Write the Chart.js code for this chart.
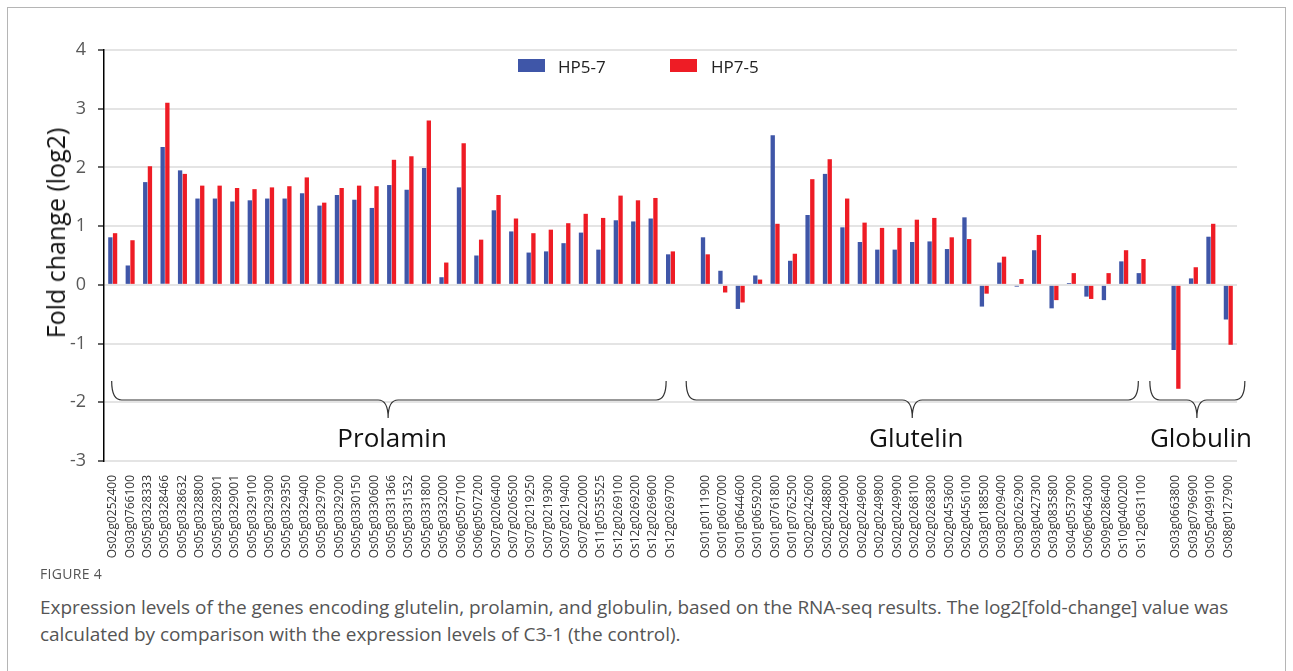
<!DOCTYPE html>
<html>
<head>
<meta charset="utf-8">
<script src="https://cdn.jsdelivr.net/npm/chart.js@4.4.0/dist/chart.umd.min.js"></script>
<style>
  body { margin: 0; background: #fff; width: 1293px; height: 671px; overflow: hidden; position: relative; font-family: "Open Sans", sans-serif; }
  #frame { position: absolute; left: 7px; top: 7px; width: 1279px; height: 700px; border: 1px solid #b5b5b5; box-sizing: border-box; }
  #chart { position: absolute; left: 0; top: 0; }
  .leg { position: absolute; top: 55px; font-size: 17px; color: #222; }
  .box { position: absolute; top: 59px; width: 27px; height: 13px; }
  #ytitle { position: absolute; left: 55px; top: 233px; transform: translate(-50%, -50%) rotate(-90deg); white-space: nowrap; font-size: 25px; color: #111; }
  #figlab { position: absolute; left: 40px; top: 564px; font-size: 14px; color: #555; letter-spacing: 0.3px; }
  #caption { position: absolute; left: 40px; top: 594px; width: 1215px; font-size: 19px; letter-spacing: -0.05px; line-height: 27px; color: #555; }
</style>
</head>
<body>
<div id="frame"></div>
<canvas id="chart" width="1293" height="565"></canvas>
<div class="box" style="left:518px;background:#3f56a8"></div>
<div class="leg" style="left:558px">HP5-7</div>
<div class="box" style="left:670px;background:#ee1c25"></div>
<div class="leg" style="left:711px">HP7-5</div>
<div id="ytitle">Fold change (log2)</div>
<div id="figlab">FIGURE 4</div>
<div id="caption">Expression levels of the genes encoding glutelin, prolamin, and globulin, based on the RNA-seq results. The log2[fold-change] value was calculated by comparison with the expression levels of C3-1 (the control).</div>
<script>
// gene ids, '' = gap between groups
const genes = [
  'Os02g0252400','Os03g0766100','Os05g0328333','Os05g0328466','Os05g0328632','Os05g0328800','Os05g0328901',
  'Os05g0329001','Os05g0329100','Os05g0329300','Os05g0329350','Os05g0329400','Os05g0329700','Os05g0329200',
  'Os05g0330150','Os05g0330600','Os05g0331366','Os05g0331532','Os05g0331800','Os05g0332000','Os06g0507100',
  'Os06g0507200','Os07g0206400','Os07g0206500','Os07g0219250','Os07g0219300','Os07g0219400','Os07g0220000',
  'Os11g0535525','Os12g0269100','Os12g0269200','Os12g0269600','Os12g0269700',
  '',
  'Os01g0111900','Os01g0607000','Os01g0644600','Os01g0659200','Os01g0761800','Os01g0762500','Os02g0242600',
  'Os02g0248800','Os02g0249000','Os02g0249600','Os02g0249800','Os02g0249900','Os02g0268100','Os02g0268300',
  'Os02g0453600','Os02g0456100','Os03g0188500','Os03g0209400','Os03g0262900','Os03g0427300','Os03g0835800',
  'Os04g0537900','Os06g0643000','Os09g0286400','Os10g0400200','Os12g0631100',
  '',
  'Os03g0663800','Os03g0796900','Os05g0499100','Os08g0127900'
];

const hp57 = [
  0.81, 0.33, 1.75, 2.35, 1.95, 1.47, 1.47, 1.42, 1.44, 1.47, 1.47, 1.56, 1.35, 1.53, 1.45, 1.31, 1.70,
  1.62, 1.99, 0.13, 1.66, 0.50, 1.27, 0.91, 0.55, 0.57, 0.71, 0.89, 0.60, 1.10, 1.08, 1.13, 0.52,
  null,
  0.81, 0.24, -0.41, 0.16, 2.55, 0.41, 1.19, 1.89, 0.98, 0.73, 0.60, 0.60, 0.73, 0.74, 0.61, 1.15,
  -0.37, 0.38, -0.03, 0.59, -0.40, 0.03, -0.20, -0.26, 0.40, 0.20,
  null,
  -1.11, 0.11, 0.82, -0.59
];

const hp75 = [
  0.88, 0.76, 2.02, 3.10, 1.89, 1.69, 1.69, 1.65, 1.63, 1.66, 1.68, 1.83, 1.40, 1.65, 1.69, 1.68, 2.13,
  2.19, 2.80, 0.38, 2.41, 0.77, 1.53, 1.13, 0.88, 0.94, 1.05, 1.21, 1.14, 1.52, 1.44, 1.48, 0.57,
  null,
  0.52, -0.13, -0.30, 0.09, 1.04, 0.53, 1.80, 2.14, 1.47, 1.06, 0.97, 0.97, 1.11, 1.14, 0.81, 0.78,
  -0.15, 0.48, 0.10, 0.85, -0.26, 0.20, -0.24, 0.20, 0.59, 0.44,
  null,
  -1.77, 0.30, 1.04, -1.02
];

const yTicks = [4, 3, 2, 1, 0, -1, -2, -3];

const groupNames = ['Prolamin', 'Glutelin', 'Globulin'];

// brace spans in category index units: [start, end, tip]
const braceSpans = [[-0.06, 31.75, 15.8], [32.9, 58.84, 45.87], [59.5, 64.95, 62.2]];

const bracePlugin = {
  id: 'braces',
  afterDraw(chart) {
    const ctx = chart.ctx;
    const x = chart.scales.x;
    const yTop = 381, yMid = 400, yTip = 418, r = 10;
    ctx.save();
    ctx.strokeStyle = '#333';
    ctx.lineWidth = 1.2;
    braceSpans.forEach((s, i) => {
      const x0 = x.getPixelForValue(s[0]);
      const x1 = x.getPixelForValue(s[1]);
      const xc = x.getPixelForValue(s[2]);
      ctx.beginPath();
      ctx.moveTo(x0, yTop);
      ctx.quadraticCurveTo(x0, yMid, x0 + r, yMid);
      ctx.lineTo(xc - r, yMid);
      ctx.quadraticCurveTo(xc, yMid, xc, yTip);
      ctx.quadraticCurveTo(xc, yMid, xc + r, yMid);
      ctx.lineTo(x1 - r, yMid);
      ctx.quadraticCurveTo(x1, yMid, x1, yTop);
      ctx.stroke();

      ctx.fillStyle = '#111';
      ctx.font = '26px "Open Sans"';
      ctx.textAlign = 'center';
      ctx.textBaseline = 'middle';
      ctx.fillText(groupNames[i], xc + 4, 440);
    });
    ctx.restore();
  }
};

const ctx = document.getElementById('chart').getContext('2d');
const myChart = new Chart(ctx, {
  type: 'bar',
  data: {
    labels: genes,
    datasets: [
      { label: 'HP5-7', data: hp57, backgroundColor: '#3f56a8' },
      { label: 'HP7-5', data: hp75, backgroundColor: '#ee1c25' }
    ]
  },
  options: {
    responsive: false,
    animation: false,
    devicePixelRatio: 1,
    categoryPercentage: 0.54,
    barPercentage: 0.92,
    layout: { padding: { top: 50, right: 56, bottom: 0, left: 0 } },
    plugins: { legend: { display: false }, tooltip: { enabled: false } },
    scales: {
      x: {
        grid: { display: false },
        border: { display: false },
        ticks: {
          autoSkip: false, maxRotation: 90, minRotation: 90, padding: 6,
          color: '#333', font: { family: 'Open Sans', size: 12 }
        },
        afterFit(scale) { scale.height = 104; }
      },
      y: {
        min: -3, max: 4,
        afterBuildTicks(scale) { scale.ticks = yTicks.map(v => ({ value: v })); },
        grid: { color: '#e4e4e4', lineWidth: 2, tickColor: '#000', tickLength: 6, tickWidth: 1.2 },
        border: { color: '#000', width: 1.5 },
        ticks: { color: '#595959', padding: 12, font: { family: 'Open Sans', size: 18 } },
        afterFit(scale) { scale.width = 104; }
      }
    }
  },
  plugins: [bracePlugin]
});
</script>
</body>
</html>
